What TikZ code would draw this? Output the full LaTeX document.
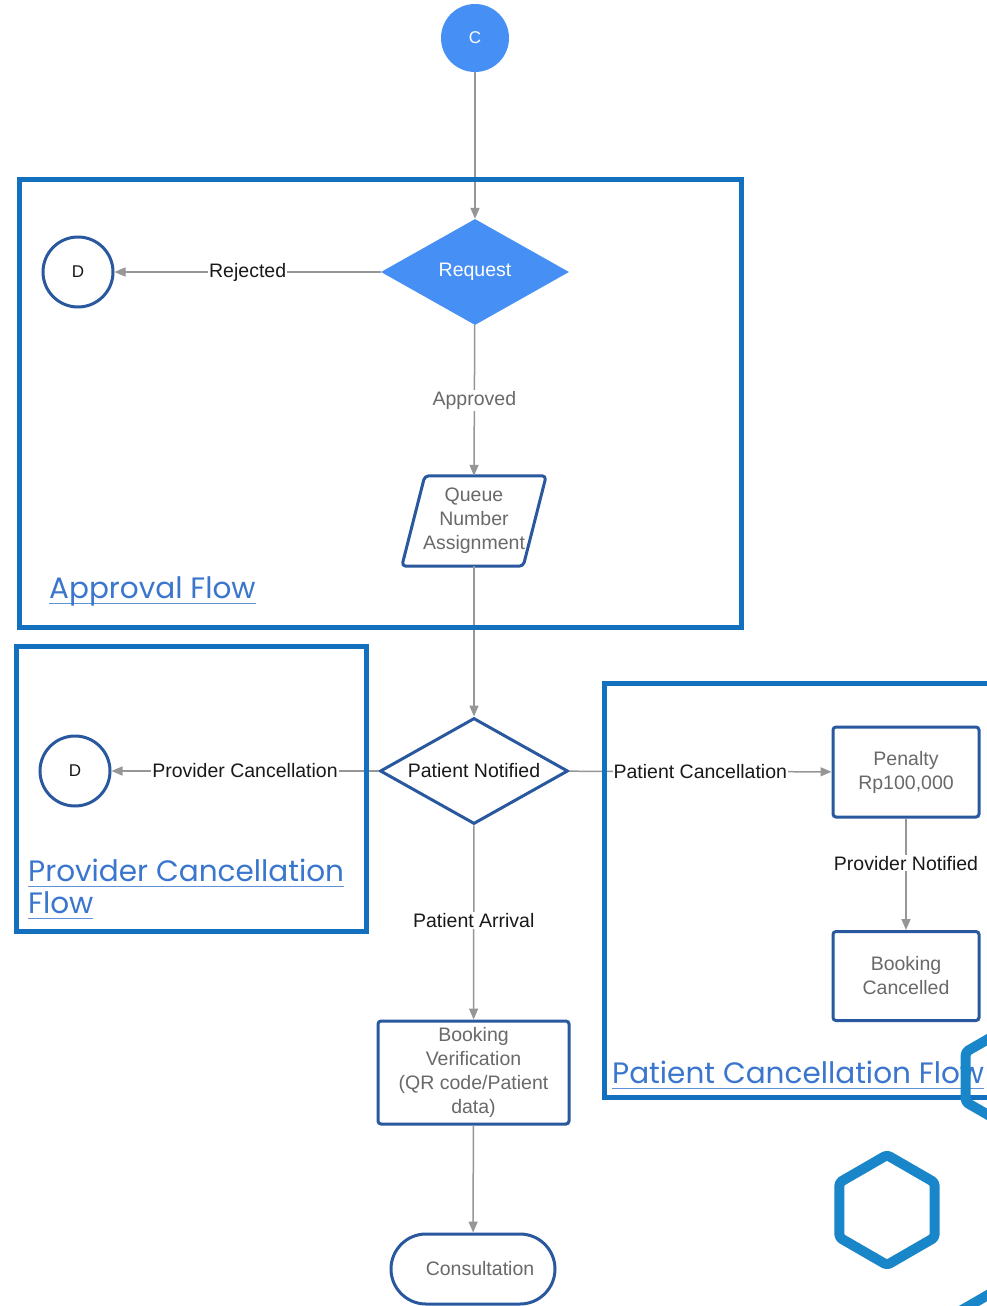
\documentclass[tikz,border=0pt]{standalone}
\usepackage{fontspec}
\setmainfont{Liberation Sans}
\newfontfamily\titlefont{Poppins}
\usetikzlibrary{arrows.meta,shapes.geometric,calc}
\definecolor{cont}{RGB}{18,112,190}
\definecolor{navy}{RGB}{42,88,158}
\definecolor{bfill}{RGB}{70,143,245}
\definecolor{ttl}{RGB}{58,118,205}
\definecolor{ulc}{RGB}{95,145,215}
\definecolor{hexc}{RGB}{24,134,200}
\definecolor{egrey}{RGB}{150,150,150}
\definecolor{tgrey}{RGB}{105,105,105}
\definecolor{tblack}{RGB}{25,25,25}
\newcommand\myul[1]{\setbox0\hbox{#1}\rlap{\color{ulc}\rule[-6pt]{\wd0}{1.3pt}}\box0}
\tikzset{
  lbl/.style={font=\fontsize{19.5}{24}\selectfont, inner sep=1pt},
  circfill/.style={circle, fill=bfill, minimum size=68pt, inner sep=0pt, text=white, font=\fontsize{17}{20}\selectfont},
  diamfill/.style={diamond, aspect=1.77, fill=bfill, minimum width=188pt, minimum height=106pt, inner sep=0pt, text=white, lbl},
  diamline/.style={diamond, aspect=1.77, draw=navy, line width=3pt, fill=white, minimum width=188pt, minimum height=106pt, inner sep=0pt, text=tblack, lbl},
  endcirc/.style={circle, draw=navy, line width=3pt, fill=white, minimum size=70pt, inner sep=0pt, text=tblack, font=\fontsize{17}{20}\selectfont},
  procbox/.style={rectangle, rounded corners=3pt, draw=navy, line width=3pt, fill=white, inner sep=0pt, align=center, text=tgrey, lbl},
  conn/.style={draw=egrey, line width=1.5pt, -{Triangle[length=11pt,width=9pt]}},
  elabel/.style={lbl, fill=white, text=tblack},
  container/.style={draw=cont, line width=5pt},
  ttlnode/.style={anchor=base west, inner sep=0pt, text=ttl, align=left, font=\titlefont\fontsize{29.5}{32}\selectfont},
  hexline/.style={draw=hexc, line width=10pt, line join=round, rounded corners=3pt}
}
\begin{document}
\begin{tikzpicture}[x=1pt,y=-1pt]
\clip (0,0) rectangle (987,1306);
\fill[white] (0,0) rectangle (987,1306);

% nodes
\node[circfill] (C) at (475,38) {C};
\node[diamfill] (req) at (475,272) {Request};
\node[endcirc] (D1) at (78,272) {D};
\node[rectangle, minimum width=144pt, minimum height=90pt, inner sep=0pt, align=center, text=tgrey, lbl] (q) at (474,521) {Queue\\Number\\Assignment};
\draw[navy, line width=3pt, rounded corners=4pt, line join=round]
  (q.south west) -- ([xshift=23pt]q.north west) -- (q.north east) -- ([xshift=-23pt]q.south east) -- cycle;
\node[diamline] (pn) at (474,771) {Patient Notified};
\node[endcirc] (D2) at (75,771) {D};
\node[procbox, minimum width=146pt, minimum height=90pt] (pen) at (906,772) {Penalty\\Rp100,000};
\node[procbox, minimum width=146pt, minimum height=89pt] (bc) at (906,976) {Booking\\Cancelled};
\node[procbox, minimum width=191pt, minimum height=103pt] (bv) at (473.5,1072.5) {Booking\\Verification\\(QR code/Patient\\data)};
\node[procbox, rounded corners=35pt, minimum width=164pt, minimum height=70pt] (con) at (473,1269) {\hspace*{14pt}Consultation};

% connectors
\draw[conn] (C) -- (req);
\draw[conn] (req) -- node[elabel] {Rejected} (D1);
\draw[conn] (req) -- node[elabel, text=tgrey] {Approved} (q.north);
\draw[conn] (q.south) -- (pn);
\draw[conn] (pn) -- node[elabel] {Provider Cancellation} (D2);
\draw[conn] (pn) -- node[elabel] {Patient Cancellation} (pen);
\draw[conn] (pen) -- node[elabel, pos=0.4] {Provider Notified} (bc);
\draw[conn] (pn) -- node[elabel, pos=0.49] {Patient Arrival} (bv);
\draw[conn] (bv) -- (con);

% containers
\draw[container] (19,179) rectangle (741,627);
\draw[container] (16,646) rectangle (366,931);
\draw[container] (604,683) rectangle (1000,1097);

% titles
\node[ttlnode] (t1) at (49,598) {\myul{Approval Flow}};
\node[ttlnode] (t2) at (28,913) {\myul{Provider Cancellation}\\\myul{Flow}};
\node[ttlnode] (t3) at (612,1083) {\myul{Patient Cancellation Flow}};

% hexagons
\draw[hexline] (887,1155) -- (839.4,1182.5) -- (839.4,1237.5) -- (887,1265) -- (934.6,1237.5) -- (934.6,1182.5) -- cycle;
\draw[hexline] (1009,1027) -- (965.7,1052) -- (965.7,1102) -- (1009,1127) -- (1052.3,1102) -- (1052.3,1052) -- cycle;
\draw[hexline] (1000,1288) -- (956.7,1313) -- (956.7,1363) -- (1000,1388) -- (1043.3,1363) -- (1043.3,1313) -- cycle;
\end{tikzpicture}
\end{document}
